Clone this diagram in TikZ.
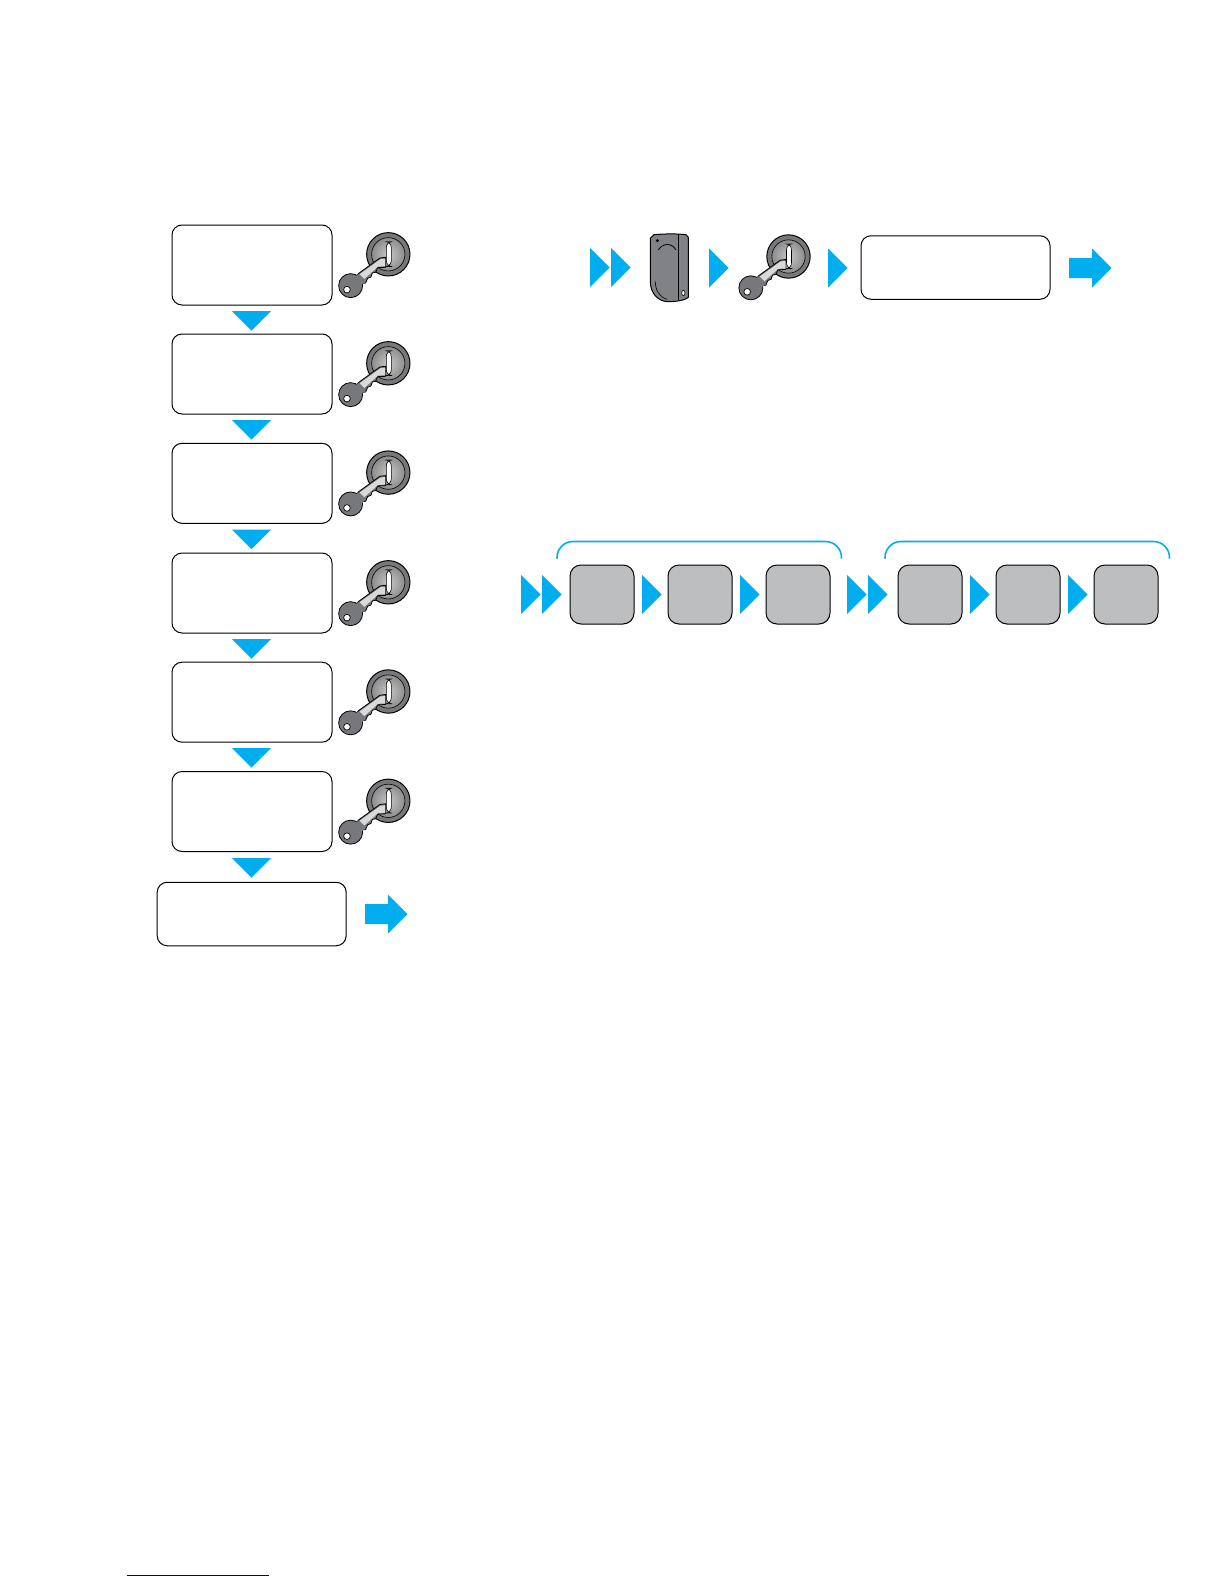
\documentclass[tikz,border=0pt]{standalone}
\definecolor{cy}{HTML}{00AEEF}
\definecolor{sq}{HTML}{BCBEC0}
\definecolor{dk}{HTML}{77787B}
\definecolor{fb}{HTML}{808285}
\tikzset{
  x=1pt,y=-1pt,
  wbox/.style={draw=black,fill=white,line width=1pt,rounded corners=10pt,inner sep=0pt,outer sep=0pt},
  sbox/.style={draw=black,fill=sq,line width=1pt,rounded corners=11pt,inner sep=0pt,outer sep=0pt,minimum width=64pt,minimum height=59pt},
  tall/.style={wbox,minimum width=160pt,minimum height=80pt},
  wide/.style={wbox,minimum width=189pt,minimum height=63.5pt},
  rtri/.pic={\fill[cy] (0,-19.5)--(19.7,0)--(0,19.5)--cycle;},
  dtri/.pic={\fill[cy] (0,-19.5)--(19.7,0)--(0,19.5)--cycle;\fill[cy] (21,-19.5)--(40.7,0)--(21,19.5)--cycle;},
  ftri/.pic={\fill[cy] (-19.5,0)--(19.5,0)--(0,19.7)--cycle;},
  barrow/.pic={\fill[cy] (0,-10)--(23,-10)--(23,-19.5)--(42.5,0)--(23,19.5)--(23,10)--(0,10)--cycle;},
  brace/.pic={\draw[cy,line width=1.6pt,rounded corners=16pt] (0,17.5) -- (0,0.5) -- (284.5,0.5) -- (284.5,17.5);},
  keypic/.pic={
    \begin{scope}[scale=0.3333]
      \fill[dk] (0,0) circle[radius=65];
      \draw[black,line width=1pt] (0,0) circle[radius=65];
      \draw[black,line width=.6pt,inner color=black!22,outer color=black!45] (0,0) circle[radius=50];
      \draw[black,line width=.6pt,fill=white,rounded corners=6pt] (-6,-38) rectangle (9,37);
      \draw[black,line width=.8pt,fill=dk,line join=round] (-8,9)--(-25,11)--(-90,58)--(-112,92)--(-68,86)--(-62,72)--(-52,68)--(-48,56)--(-38,54)--(-32,40)--(-8,39)--cycle;
      \draw[black,line width=.8pt,fill=dk] (-113,94) circle[radius=36];
      \fill[dk] (-90,60)--(-69,84)--(-100,105)--(-110,75)--cycle;
      \fill[black!15] (-9,13)--(-24,15)--(-86,60)--(-72,74)--(-31,37)--(-9,36)--cycle;
      \draw[black,line width=.7pt,fill=white] (-124,106) circle[radius=10];
    \end{scope}
  },
  fobpic/.pic={
    \begin{scope}[scale=0.3333]
      \draw[black,line width=1pt,fill=fb,line join=round] (222,44) .. controls (260,41) and (290,41) .. (318,44) -- (325,52) -- (325,232) .. controls (318,240) and (290,245) .. (265,245) .. controls (235,245) and (211,220) .. (211,185) -- (211,55) -- cycle;
      \draw[black,line width=.5pt] (296,43)--(296,240);
      \draw[black,line width=.6pt] (226,185) .. controls (226,210) and (238,232) .. (262,238);
      \draw[black,line width=.8pt] (235,90) .. controls (248,68) and (276,68) .. (288,90);
      \fill[black] (232,62) circle[radius=5];
      \draw[black,line width=.6pt,fill=white] (310,219) ellipse[x radius=5,y radius=8];
    \end{scope}
  }
}
\begin{document}
\begin{tikzpicture}
\useasboundingbox (0,0) rectangle (1224,1584);
\fill[white] (0,0) rectangle (1224,1584);
% left column
\node[tall] (a1) at (252,265) {};
\node[tall] (a2) at (252,374) {};
\node[tall] (a3) at (252,483.3) {};
\node[tall] (a4) at (252,593) {};
\node[tall] (a5) at (252,702.2) {};
\node[tall] (a6) at (252,811.5) {};
\node[wide] (a7) at (251.7,914) {};
\foreach \yy in {311,420,529.5,639,748,858} \pic at (251.5,\yy) {ftri};
\foreach \yy in {254.3,363.3,472.6,582.3,691.5,800.8} \pic at (388.3,\yy) {keypic};
\pic at (365,914) {barrow};
% top row
\pic at (590,267.5) {dtri};
\begin{scope}[shift={(580,220)}]\pic at (0,0) {fobpic};\end{scope}
\pic at (709,268) {rtri};
\pic at (788.5,256.5) {keypic};
\pic at (828,268) {rtri};
\node[wbox,minimum width=189pt,minimum height=63.5pt] (b1) at (955.5,267.5) {};
\pic at (1069,268) {barrow};
% bottom row
\pic at (557,541) {brace};
\pic at (885,541) {brace};
\pic at (521,594.5) {dtri};
\node[sbox] (c1) at (602,594.5) {};
\pic at (642,594.5) {rtri};
\node[sbox] (c2) at (700,594.5) {};
\pic at (740,594.5) {rtri};
\node[sbox] (c3) at (798,594.5) {};
\pic at (847,594.5) {dtri};
\node[sbox] (c4) at (930,594.5) {};
\pic at (970,594.5) {rtri};
\node[sbox] (c5) at (1028,594.5) {};
\pic at (1068,594.5) {rtri};
\node[sbox] (c6) at (1126,594.5) {};
% rule at the foot of the page
\draw[color={rgb,255:red,0;green,0;blue,128},line width=1pt] (127,1575)--(268.7,1575);
\end{tikzpicture}
\end{document}
